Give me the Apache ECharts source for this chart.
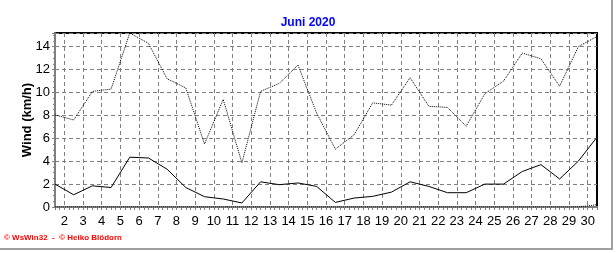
<!DOCTYPE html>
<html>
<head>
<meta charset="utf-8">
<script src="https://cdn.jsdelivr.net/npm/echarts@6/dist/echarts.min.js"></script>
<style>html,body{margin:0;padding:0;background:#fff}#c{width:616px;height:253px}</style>
</head>
<body>
<div id="c"></div>
<script>
// Days of June 2020 (each daily value plotted at midday)
const days = [1,2,3,4,5,6,7,8,9,10,11,12,13,14,15,16,17,18,19,20,21,22,23,24,25,26,27,28,29,30];
// Daily mean wind (solid line), km/h
const windMean = [2.0,1.07,1.85,1.7,4.35,4.28,3.3,1.7,0.9,0.7,0.35,2.2,1.95,2.1,1.8,0.4,0.78,0.93,1.3,2.2,1.8,1.25,1.25,2.0,2.0,3.1,3.7,2.45,4.0,6.1];
// Daily max wind (dotted line), km/h
const windMax = [8.05,7.6,10.1,10.3,15.2,14.3,11.2,10.4,5.5,9.4,3.85,10.1,10.8,12.4,8.2,5.05,6.3,9.1,8.9,11.3,8.8,8.7,7.05,9.9,11.0,13.45,12.95,10.55,14.0,14.9];
// Third dotted series lying on the baseline
const windLow = [0,0,0,0,0,0,0,0,0,0,0,0,0,0,0,0,0,0,0,0,0,0,0,0,0,0,0,0,0,0.2];
// Tick labels on the day axis
const dayTicks = [2,3,4,5,6,7,8,9,10,11,12,13,14,15,16,17,18,19,20,21,22,23,24,25,26,27,28,29,30];
const yTicks = [0,2,4,6,8,10,12,14];

const quarterTicks = [];
for (let v = 1.5; v <= 30.5001; v += 0.25) quarterTicks.push(+v.toFixed(2));

function pts(vals){ return days.map((d,i)=>[d+0.5, vals[i]]); }

const chart = echarts.init(document.getElementById('c'), null, {renderer:'canvas'});
const font = 'Arial, "Liberation Sans", sans-serif';
chart.setOption({
  animation:false,
  backgroundColor:'#fff',
  title:{text:'Juni 2020', left:'center', top:12,
    textStyle:{color:'#0000ff', fontSize:12, fontWeight:'bold', fontFamily:font}},
  grid:{left:55, right:19, top:33, bottom:46, show:true, borderColor:'#000', borderWidth:2, backgroundColor:'transparent'},
  xAxis:[{
    type:'value', min:1.5, max:30.5,
    axisLine:{show:true, lineStyle:{color:'#808080', width:2}},
    axisTick:{show:false, customValues:dayTicks},
    axisLabel:{customValues:dayTicks, color:'#000', fontSize:13, fontFamily:font, margin:8},
    splitLine:{show:true, lineStyle:{color:'#808080', type:[4,3], width:1}}
  },{
    type:'value', min:1.5, max:30.5, position:'bottom',
    axisLine:{show:false},
    axisTick:{show:true, customValues:quarterTicks, length:3, lineStyle:{color:'#808080'}},
    axisLabel:{show:false},
    splitLine:{show:false}
  }],
  yAxis:{
    type:'value', min:0, max:15.2, interval:2,
    name:'Wind (km/h)', nameLocation:'middle', nameGap:21, nameRotate:90, nameMoveOverlap:false,
    nameTextStyle:{color:'#000', fontSize:13, fontWeight:'bold', fontFamily:font},
    axisLine:{show:true, lineStyle:{color:'#808080', width:2}},
    axisTick:{show:true, length:3, lineStyle:{color:'#808080'}},
    minorTick:{show:true, splitNumber:4, length:2, lineStyle:{color:'#808080'}},
    axisLabel:{color:'#000', fontSize:13, fontFamily:font, margin:5,
      formatter:function(v){ return yTicks.indexOf(v)>=0 ? String(v) : ''; }},
    splitLine:{show:true, lineStyle:{color:'#808080', type:[4,3], width:1}}
  },
  series:[
    {type:'line', data:pts(windMax), showSymbol:false, symbol:'none',
      lineStyle:{color:'#000', width:1, type:[1,1]}, z:3},
    {type:'line', data:pts(windMean), showSymbol:false, symbol:'none',
      lineStyle:{color:'#000', width:1}, z:4},
    {type:'line', data:pts(windLow), showSymbol:false, symbol:'none',
      lineStyle:{color:'#000', width:1, type:[1,1]}, z:3}
  ],
  graphic:[
    {type:'line', shape:{x1:612, y1:0, x2:612, y2:249}, style:{stroke:'#a0a0a0', lineWidth:2}},
    {type:'line', shape:{x1:0, y1:249, x2:613, y2:249}, style:{stroke:'#a0a0a0', lineWidth:2}},
    {type:'text', left:4, top:234, style:{text:'© WsWin32  -  © Heiko Blödorn', fill:'#ff0000',
      font:'bold 8px Arial, "Liberation Sans", sans-serif'}}
  ]
});
</script>
</body>
</html>
